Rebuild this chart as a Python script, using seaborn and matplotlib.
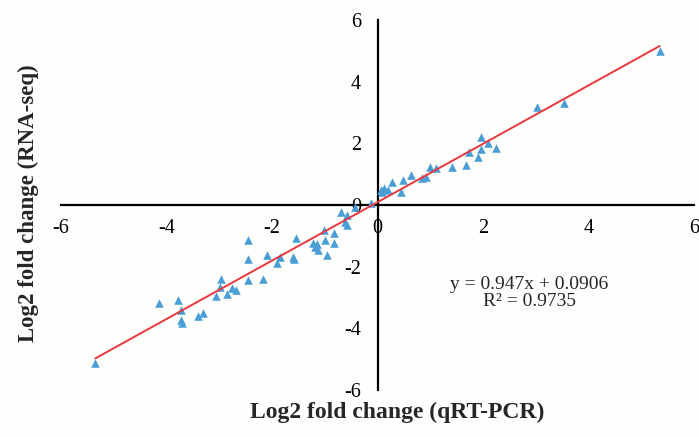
import numpy as np
import matplotlib
matplotlib.use("Agg")
import matplotlib.pyplot as plt
import seaborn as sns

# значения: qRT-PCR (x) и RNA-seq (y)
qpcr = [-5.35, -4.15, -3.79, -3.72, -3.73, -3.70, -3.41, -3.30, -3.07, -2.96,
        -2.98, -2.86, -2.45, -2.45, -2.75, -2.69, -2.46, -2.18, -2.09, -1.84,
        -1.90, -1.61, -1.59, -1.55, -1.23, -1.18, -1.12, -1.15, -1.02, -0.99,
        -0.95, -0.83, -0.83, -0.70, -0.61, -0.57, -0.57, -0.42, -0.13, 0.06,
        0.13, 0.19, 0.09, 0.28, 0.44, 0.49, 0.64, 0.85, 0.91, 1.00,
        1.10, 1.42, 1.67, 1.73, 1.91, 1.97, 1.97, 2.10, 2.24, 3.03,
        3.53, 5.35]
rnaseq = [-5.13, -3.18, -3.08, -3.41, -3.73, -3.83, -3.60, -3.51, -2.95, -2.40,
          -2.66, -2.89, -1.14, -1.75, -2.70, -2.76, -2.44, -2.40, -1.62, -1.69,
          -1.88, -1.69, -1.75, -1.07, -1.23, -1.36, -1.46, -1.25, -0.81, -1.14,
          -1.62, -0.91, -1.23, -0.23, -0.55, -0.65, -0.32, -0.06, 0.06, 0.49,
          0.55, 0.49, 0.42, 0.75, 0.42, 0.81, 0.97, 0.88, 0.91, 1.23,
          1.20, 1.23, 1.30, 1.72, 1.56, 2.21, 1.82, 2.01, 1.85, 3.18,
          3.31, 5.00]

# линия тренда
slope, intercept = 0.947, 0.0906
r2 = 0.9735

sns.set_style("white")
plt.rcParams['font.family'] = ['Liberation Serif', 'DejaVu Serif']
plt.rcParams['axes.unicode_minus'] = False

fig = plt.figure(figsize=(6.99, 4.37), dpi=100, facecolor="#fefefc")
ax = fig.add_axes([61 / 699, 1 - 390 / 437, 633 / 699, 370 / 437])
ax.set_facecolor("#fefefc")

sns.scatterplot(x=qpcr, y=rnaseq, marker="^", s=38, color="#4a9ed6",
                edgecolor="#4a9ed6", linewidth=0, ax=ax, zorder=3)

xl = np.array([min(qpcr), max(qpcr)])
ax.plot(xl, slope * xl + intercept, color="#e8383d", lw=1.4, zorder=4)

ax.set_xlim(-6, 6)
ax.set_ylim(-6, 6)
ax.set_xticks(np.arange(-6, 7, 2))
ax.set_yticks(np.arange(-6, 7, 2))

for s in ["top", "right"]:
    ax.spines[s].set_visible(False)
ax.spines["left"].set_position(("data", 0))
ax.spines["bottom"].set_position(("data", 0))
for s in ["left", "bottom"]:
    ax.spines[s].set_linewidth(1.6)
    ax.spines[s].set_color("black")

ax.tick_params(axis="both", direction="out", length=4, width=1.6,
               labelsize=14.5, colors="black")
ax.tick_params(axis="x", pad=6)
ax.tick_params(axis="y", pad=8)
ax.set_xlabel("")
ax.set_ylabel("")

ax.text(2.88, -2.85, f"y = {slope}x + {intercept}\nR\u00b2 = {r2}",
        ha="center", va="center", fontsize=14, linespacing=1.05)

fig.text(397 / 699, 1 - 412 / 437, "Log2 fold change (qRT-PCR)",
         ha="center", va="center", fontsize=17, fontweight="bold")
fig.text(28 / 699, 1 - 203 / 437, "Log2 fold change (RNA-seq)",
         ha="center", va="center", rotation=90, fontsize=16.5, fontweight="bold")

fig.savefig("out.png", dpi=100, facecolor=fig.get_facecolor())
